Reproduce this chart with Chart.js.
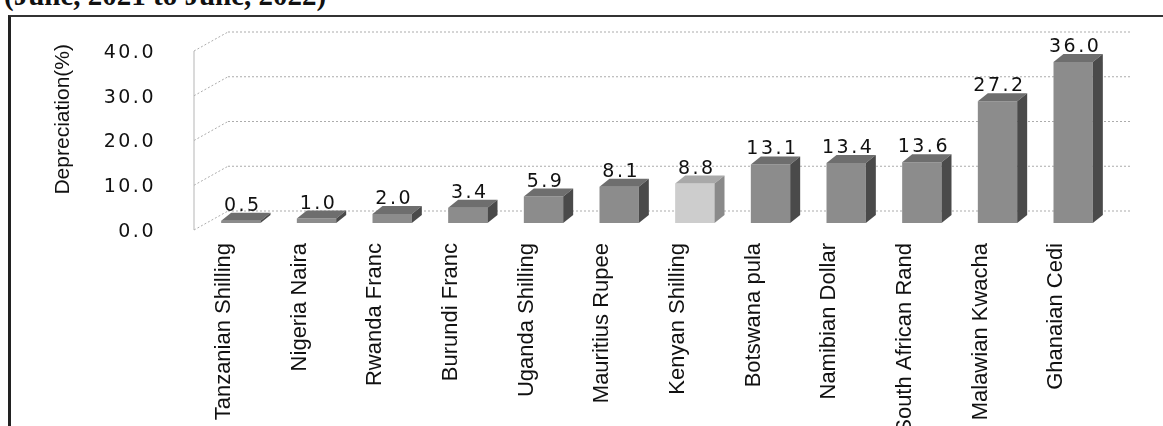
<!DOCTYPE html>
<html><head><meta charset="utf-8">
<script src="https://cdn.jsdelivr.net/npm/chart.js@4.4.1/dist/chart.umd.min.js"></script>
<style>
html,body{margin:0;padding:0;background:#fff;width:1163px;height:426px;overflow:hidden;}
#ttl{position:absolute;left:4px;top:-19px;font:bold 29px "Liberation Serif";line-height:29px;white-space:nowrap;color:#111;}
#box{position:absolute;left:8px;top:15px;width:1300px;height:500px;border-left:3px solid #222;border-top:2px solid #333;}
#wrap{position:absolute;left:0;top:0;width:1163px;height:426px;}
</style></head><body>
<div id="ttl">(June, 2021 to June, 2022)</div>
<div id="box"></div>
<div id="wrap"><canvas id="c"></canvas></div>
<script>
const categories = ['Tanzanian Shilling','Nigeria Naira','Rwanda Franc','Burundi Franc','Uganda Shilling','Mauritius Rupee','Kenyan Shilling','Botswana pula','Namibian Dollar','South African Rand','Malawian Kwacha','Ghanaian Cedi'];
const depreciation = [0.5, 1.0, 2.0, 3.4, 5.9, 8.1, 8.8, 13.1, 13.4, 13.6, 27.2, 36.0];
const highlighted = 'Kenyan Shilling';
const yMin = 0, yMax = 40, yStep = 10;
const yAxisTitle = 'Depreciation(%)';

const isHi = c => c === highlighted;
const frontCol = categories.map(c => isHi(c) ? '#cdcdcd' : '#8c8c8c');
const topCol = categories.map(c => isHi(c) ? '#a9a9a9' : '#6e6e6e');
const sideCol = categories.map(c => isHi(c) ? '#8a8a8a' : '#4a4a4a');

const DX = 10, DY = -8;
const SPACING = '2.5px';
const NUM_FONT = '19px "DejaVu Sans"';

const threeD = {
  id: 'threeD',
  beforeDraw(chart){ chart.ctx.letterSpacing = '0px'; },
  beforeDatasetsDraw(chart){
    const {ctx, chartArea:a, scales:{y}} = chart;
    const bl = a.left + 25, br = a.right + 21, fl = a.left - 9;
    const line = (x1,y1,x2,y2) => { ctx.beginPath(); ctx.moveTo(x1,y1); ctx.lineTo(x2,y2); ctx.stroke(); };
    ctx.save();
    ctx.strokeStyle = '#acacac'; ctx.lineWidth = 1; ctx.setLineDash([2,2]);
    y.ticks.forEach(t => {
      const py = y.getPixelForValue(t.value);
      line(bl, py - 12, br, py - 12);
      line(fl, py + 7, bl, py - 12);
    });
    ctx.setLineDash([]); ctx.strokeStyle = '#b5b5b5';
    line(fl, y.getPixelForValue(yMax) + 7, fl, y.getPixelForValue(yMin) + 7);
    ctx.restore();
  },
  afterDatasetsDraw(chart){
    const {ctx} = chart;
    const meta = chart.getDatasetMeta(0);
    ctx.save();
    meta.data.forEach((bar, i) => {
      const {x, y, base, width} = bar.getProps(['x','y','base','width'], true);
      const l = x - width/2, r = x + width/2;
      ctx.fillStyle = topCol[i];
      ctx.beginPath(); ctx.moveTo(l,y); ctx.lineTo(l+DX,y+DY); ctx.lineTo(r+DX,y+DY); ctx.lineTo(r,y); ctx.closePath(); ctx.fill();
      ctx.fillStyle = sideCol[i];
      ctx.beginPath(); ctx.moveTo(r,y); ctx.lineTo(r+DX,y+DY); ctx.lineTo(r+DX,base+DY); ctx.lineTo(r,base); ctx.closePath(); ctx.fill();
    });
    ctx.letterSpacing = SPACING;
    ctx.font = NUM_FONT;
    ctx.fillStyle = '#111';
    ctx.textAlign = 'center'; ctx.textBaseline = 'alphabetic';
    meta.data.forEach((bar, i) => {
      const {x, y} = bar.getProps(['x','y'], true);
      ctx.fillText(depreciation[i].toFixed(1), x + 2, y - 10);
    });
    ctx.restore();
    ctx.letterSpacing = SPACING; // for y tick labels drawn in a later layer
  },
  afterDraw(chart){ chart.ctx.letterSpacing = '0px'; }
};

new Chart(document.getElementById('c'), {
  type: 'bar',
  data: {
    labels: categories,
    datasets: [{ data: depreciation, backgroundColor: frontCol, borderWidth: 0, barPercentage: 0.52, categoryPercentage: 1 }]
  },
  options: {
    responsive: true, maintainAspectRatio: false, animation: false,
    layout: { padding: { left: 40, top: 44, right: 52, bottom: 0 } },
    plugins: { legend: { display: false }, tooltip: { enabled: false } },
    scales: {
      x: {
        grid: { display: false, drawTicks: false }, border: { display: false },
        ticks: { autoSkip: false, maxRotation: 90, minRotation: 90, padding: 20, labelOffset: -17,
                 color: '#111', font: { family: '"Liberation Sans"', size: 22 } },
        afterFit: s => { s.height = 203; }
      },
      y: {
        min: yMin, max: yMax,
        grid: { display: false, drawTicks: false }, border: { display: false },
        ticks: { stepSize: yStep, padding: 47, labelOffset: 9, z: 1, color: '#111',
                 font: { family: '"DejaVu Sans"', size: 19 },
                 callback: v => Number(v).toFixed(1) },
        title: { display: true, text: yAxisTitle, align: 'end', padding: { top: 11, bottom: 0 },
                 color: '#111', font: { family: '"Liberation Sans"', size: 21 } },
        afterFit: s => { s.width = 163; s.paddingTop = 0; s.paddingBottom = 0; }
      }
    }
  },
  plugins: [threeD]
});
</script>
</body></html>
